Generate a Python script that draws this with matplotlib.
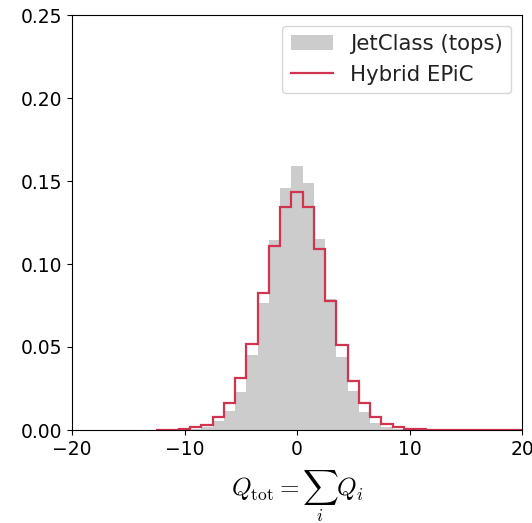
import numpy as np
import matplotlib
matplotlib.use("Agg")
import matplotlib.pyplot as plt

plt.rcParams['mathtext.fontset'] = 'cm'

# Bin centres (integer total charge)
gray_centers = list(range(-10, 11))
gray_values = [0.0002, 0.0008, 0.002, 0.0056, 0.0114, 0.0231, 0.0452, 0.0763, 0.1145, 0.1456,
               0.159, 0.1486, 0.1149, 0.079, 0.0442, 0.0237, 0.011, 0.0045, 0.002, 0.0008, 0.0003]

red_centers = list(range(-12, 21))
red_values = [0.0002, 0.0003, 0.0008, 0.0018, 0.0033, 0.008, 0.016, 0.0315, 0.052, 0.0823,
              0.111, 0.1345, 0.1436, 0.1345, 0.1088, 0.078, 0.051, 0.0298, 0.0161, 0.0077,
              0.0036, 0.002, 0.0008, 0.0004, 0.0002, 0.0001, 0.0001, 0.0, 0.0, 0.0, 0.0, 0.0, 0.0]

labels = ["JetClass (tops)", "Hybrid EPiC"]
xticks = [-20, -10, 0, 10, 20]
yticks = [0.00, 0.05, 0.10, 0.15, 0.20, 0.25]

gray_edges = np.append(np.array(gray_centers) - 0.5, gray_centers[-1] + 0.5)
red_edges = np.append(np.array(red_centers) - 0.5, red_centers[-1] + 0.5)

fig = plt.figure(figsize=(5.32, 5.23), dpi=100)
ax = fig.add_axes([72/532, 93/523, 450/532, 415/523])

ax.stairs(gray_values, gray_edges, fill=True, color='#cccccc', label=labels[0])
ax.stairs(red_values, red_edges, fill=False, color='#d1344f', linewidth=1.6, label=labels[1])

ax.set_xlim(-20, 20)
ax.set_ylim(0, 0.25)
ax.set_xticks(xticks)
ax.set_yticks(yticks)
ax.tick_params(labelsize=13.5)
ax.set_xlabel(r"$Q_{\rm tot} = \sum_i Q_i$", fontsize=18, labelpad=7)
leg = ax.legend(loc='upper right', fontsize=15.3)
for t in leg.get_texts():
    t.set_color('#222222')

fig.savefig("out.png", dpi=100)
